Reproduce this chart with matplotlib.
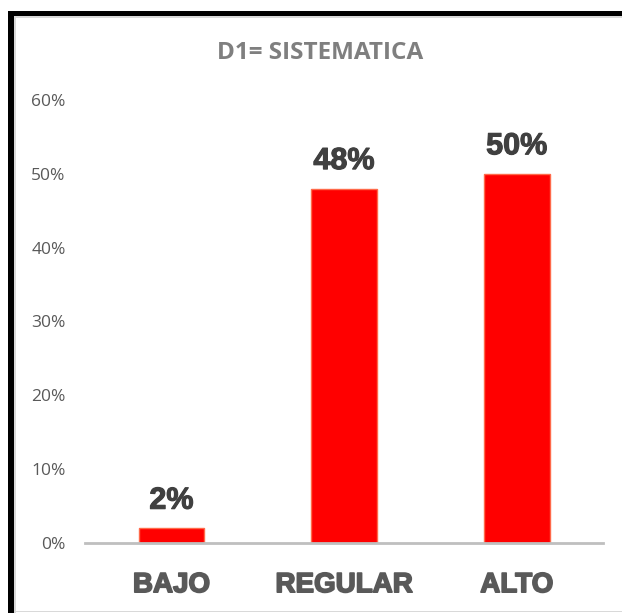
import matplotlib.pyplot as plt
import matplotlib.patheffects as pe
from matplotlib.patches import Rectangle
from matplotlib.ticker import PercentFormatter

# data
categorias = ['BAJO', 'REGULAR', 'ALTO']
valores = [2, 48, 50]
etiquetas = ['2%', '48%', '50%']
y_ticks = [0, 10, 20, 30, 40, 50, 60]

fig = plt.figure( figsize=(6.22, 6.13), dpi=100 )
ax = fig.add_axes( [0.1367, 0.1142, 0.8328, 0.7227] )

x = range( len(categorias) )
bars = ax.bar( x, valores, width=0.38, color='#ff0000',
               edgecolor='#ff6a4a', linewidth=1.0, zorder=3 )

for b, lab in zip( bars, etiquetas ):
    ax.annotate( lab, (b.get_x() + b.get_width()/2, b.get_height()),
                 xytext=(0, 9), textcoords='offset points',
                 ha='center', va='bottom', fontsize=22, fontweight='bold',
                 color='#404040', family='Liberation Sans',
                 path_effects=[pe.withStroke( linewidth=0.8, foreground='#404040' )] )

ax.set_xlim( -0.5, 2.5 )
ax.set_ylim( 0, 60 )
ax.set_yticks( y_ticks )
ax.yaxis.set_major_formatter( PercentFormatter( decimals=0 ) )
ax.set_xticks( list(x) )
ax.set_xticklabels( categorias, fontsize=20, fontweight='bold',
                    color='#595959', family='Liberation Sans' )
for lab in ax.get_xticklabels():
    lab.set_path_effects( [pe.withStroke( linewidth=1.2, foreground='#595959' )] )

ax.tick_params( axis='y', length=0, pad=14, labelsize=12.5, labelcolor='#595959' )
ax.tick_params( axis='x', length=0, pad=21 )
for lab in ax.get_yticklabels():
    lab.set_family( 'Open Sans' )

for s in ['top', 'right', 'left']:
    ax.spines[s].set_visible( False )
ax.spines['bottom'].set_color( '#bfbfbf' )
ax.spines['bottom'].set_linewidth( 2 )
ax.spines['bottom'].set_zorder( 4 )

fig.text( 0.515, 0.913, 'D1= SISTEMATICA', ha='center', va='center',
          fontsize=17.5, fontweight='bold', color='#7f7f7f', family='Open Sans' )

# frame lines around the chart
W, H = 622, 613
fig.add_artist( Rectangle( (8/W, 0), 6/W, (H-11)/H, transform=fig.transFigure,
                           facecolor='black', edgecolor='none' ) )
fig.add_artist( Rectangle( (8/W, 1-16/H), 1-8/W, 5/H, transform=fig.transFigure,
                           facecolor='black', edgecolor='none' ) )
fig.add_artist( Rectangle( (14/W, 0), 1.5/W, (H-16)/H, transform=fig.transFigure,
                           facecolor='#d9d9d9', edgecolor='none' ) )
fig.add_artist( Rectangle( (14/W, 1-17.5/H), 1-14/W, 1.5/H, transform=fig.transFigure,
                           facecolor='#d9d9d9', edgecolor='none' ) )
fig.add_artist( Rectangle( (14/W, 1/H), 1-14/W, 1.5/H, transform=fig.transFigure,
                           facecolor='#d9d9d9', edgecolor='none' ) )

fig.savefig( 'out.png', dpi=100 )
